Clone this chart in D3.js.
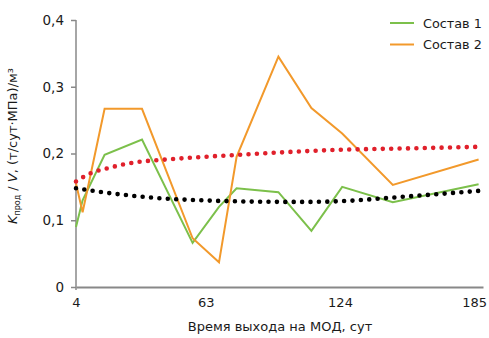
<!DOCTYPE html>
<html><head><meta charset="utf-8">
<script src="https://cdn.jsdelivr.net/npm/d3@7"></script>
<style>body{margin:0;background:#fff}svg{display:block}text{font-family:"DejaVu Sans",Verdana,sans-serif;fill:#1a1a1a}</style>
</head><body>
<svg id="c" width="489" height="338"></svg>
<script>
const xDays = [4, 7, 17, 34, 57, 69, 77, 96, 111, 125, 148, 187];
const sostav1 = [0.090, 0.130, 0.198, 0.221, 0.066, 0.120, 0.148, 0.142, 0.084, 0.150, 0.127, 0.154];
const sostav2 = [0.155, 0.112, 0.267, 0.267, 0.073, 0.037, 0.195, 0.345, 0.268, 0.230, 0.153, 0.191];
const trendRedX = [4, 11, 18.5, 26, 34, 41, 83, 119, 160, 187];
const trendRedY = [0.158, 0.171, 0.178, 0.184, 0.188, 0.190, 0.199, 0.205, 0.208, 0.210];
const trendBlackX = [4, 15, 26, 38, 60, 83, 101, 110, 127, 148, 160, 187];
const trendBlackY = [0.148, 0.1425, 0.138, 0.134, 0.130, 0.128, 0.1275, 0.1275, 0.129, 0.134, 0.137, 0.144];
const xTicks = [4, 63, 124, 185];
const yTicks = [0, 0.1, 0.2, 0.3, 0.4];
const seriesNames = ["Состав 1", "Состав 2"];
const colors = ["#7cc04b", "#f2992b"];

const svg = d3.select("#c");
const x = d3.scaleLinear().domain([4, 189]).range([76, 483]);
const y = d3.scaleLinear().domain([0, 0.4]).range([287, 20]);
const fmt = d => d === 0 ? "0" : d3.format(".1f")(d).replace(".", ",");

// y axis
const ya = svg.append("g").attr("transform", "translate(76,0)")
  .call(d3.axisLeft(y).tickValues(yTicks).tickFormat(fmt).tickSize(5).tickPadding(7));
ya.select(".domain").attr("stroke", "#888").attr("stroke-width", 1.5).attr("d", "M0,20V290");
ya.selectAll(".tick line").attr("stroke", "#888").attr("stroke-width", 1.5);
ya.selectAll(".tick text").style("font-size", "13.5px").attr("fill", "#1a1a1a");

// x axis
const xa = svg.append("g").attr("transform", "translate(0,287)")
  .call(d3.axisBottom(x).tickValues(xTicks).tickFormat(d3.format("d")).tickSize(0).tickPadding(11));
xa.select(".domain").attr("stroke", "#888").attr("stroke-width", 2);
xa.selectAll(".tick text").style("font-size", "13px").attr("fill", "#1a1a1a");

// series
const line = d3.line().x(d => x(d[0])).y(d => y(d[1]));
[sostav1, sostav2].forEach((s, i) => {
  svg.append("path").datum(xDays.map((d, j) => [d, s[j]]))
    .attr("d", line).attr("fill", "none").attr("stroke", colors[i])
    .attr("stroke-width", 2).attr("stroke-linejoin", "miter");
});

// trend lines
const smooth = d3.line().x(d => x(d[0])).y(d => y(d[1])).curve(d3.curveMonotoneX);
[[trendRedX, trendRedY, "#e0202b"], [trendBlackX, trendBlackY, "#000"]].forEach(([tx, ty, c]) => {
  svg.append("path").datum(tx.map((d, j) => [d, ty[j]]))
    .attr("d", smooth).attr("fill", "none").attr("stroke", c)
    .attr("stroke-width", 4.6).attr("stroke-linecap", "round").attr("stroke-dasharray", "0 8.4");
});

// legend
seriesNames.forEach((n, i) => {
  const ly = 23 + i * 21.5;
  svg.append("line").attr("x1", 390).attr("x2", 414).attr("y1", ly).attr("y2", ly)
    .attr("stroke", colors[i]).attr("stroke-width", 2);
  svg.append("text").attr("x", 423).attr("y", ly + 4.5).style("font-size", "12.8px").text(n);
});

// x title
svg.append("text").attr("x", 280).attr("y", 331).attr("text-anchor", "middle")
  .style("font-size", "13px").text("Время выхода на МОД, сут");

// y title
const yt = svg.append("text").attr("transform", "translate(17,146) rotate(-90)")
  .attr("text-anchor", "middle").style("font-size", "13px");
yt.append("tspan").style("font-style", "italic").text("K");
yt.append("tspan").attr("dy", 3).style("font-size", "8px").text("прод");
yt.append("tspan").attr("dy", -3).text(" / ");
yt.append("tspan").style("font-style", "italic").text("V");
yt.append("tspan").text(", (т/сут·МПа)/м³");
</script>
</body></html>
